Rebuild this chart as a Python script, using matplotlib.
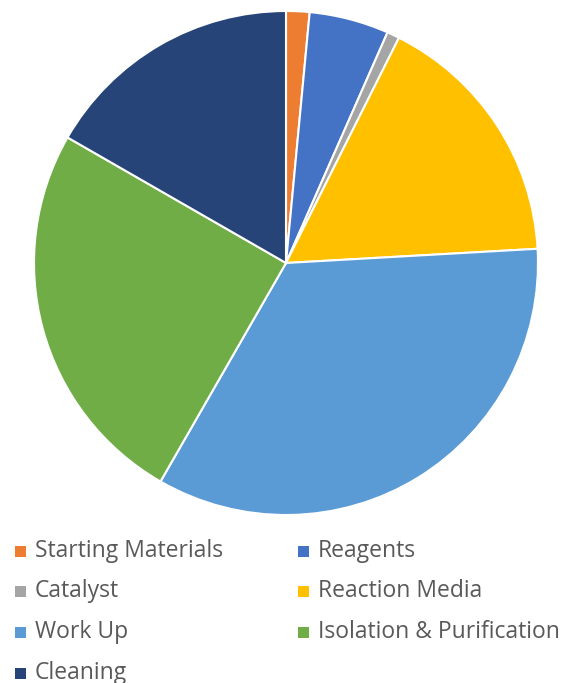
import matplotlib
matplotlib.use("Agg")
import matplotlib.pyplot as plt
from matplotlib.patches import Rectangle

categories = ["Starting Materials", "Reagents", "Catalyst", "Reaction Media",
              "Work Up", "Isolation & Purification", "Cleaning"]
values = [1.5, 5.1, 0.8, 16.7, 34.2, 25.0, 16.7]
colors = ["#ED7D31", "#4472C4", "#A5A5A5", "#FFC000", "#5B9BD5", "#70AD47", "#264478"]

W, H = 569, 683
fig = plt.figure(figsize=(W / 100, H / 100), dpi=100)
cx, cy, r = 286, 263, 252
ax = fig.add_axes([(cx - r) / W, (H - cy - r) / H, 2 * r / W, 2 * r / H])
ax.pie(values, colors=colors, startangle=90, counterclock=False, radius=1,
       wedgeprops=dict(edgecolor="white", linewidth=1.5))
ax.set_xlim(-1, 1)
ax.set_ylim(-1, 1)
ax.set_aspect("equal")
ax.axis("off")

# legend
rows_y = [551, 591, 632, 673]
col_x = [15, 298]
for i, (cat, col) in enumerate(zip(categories, colors)):
    row, c = divmod(i, 2)
    x = col_x[c]
    y = rows_y[row]
    fig.patches.append(Rectangle((x / W, (H - y - 5.5) / H), 11 / W, 11 / H,
                                 transform=fig.transFigure, facecolor=col,
                                 edgecolor="none"))
    fig.text((x + 20) / W, (H - y) / H, cat, fontsize=16.5, color="#595959",
             family="Open Sans", va="center", ha="left")

fig.savefig("out.png", dpi=100, facecolor="white")
